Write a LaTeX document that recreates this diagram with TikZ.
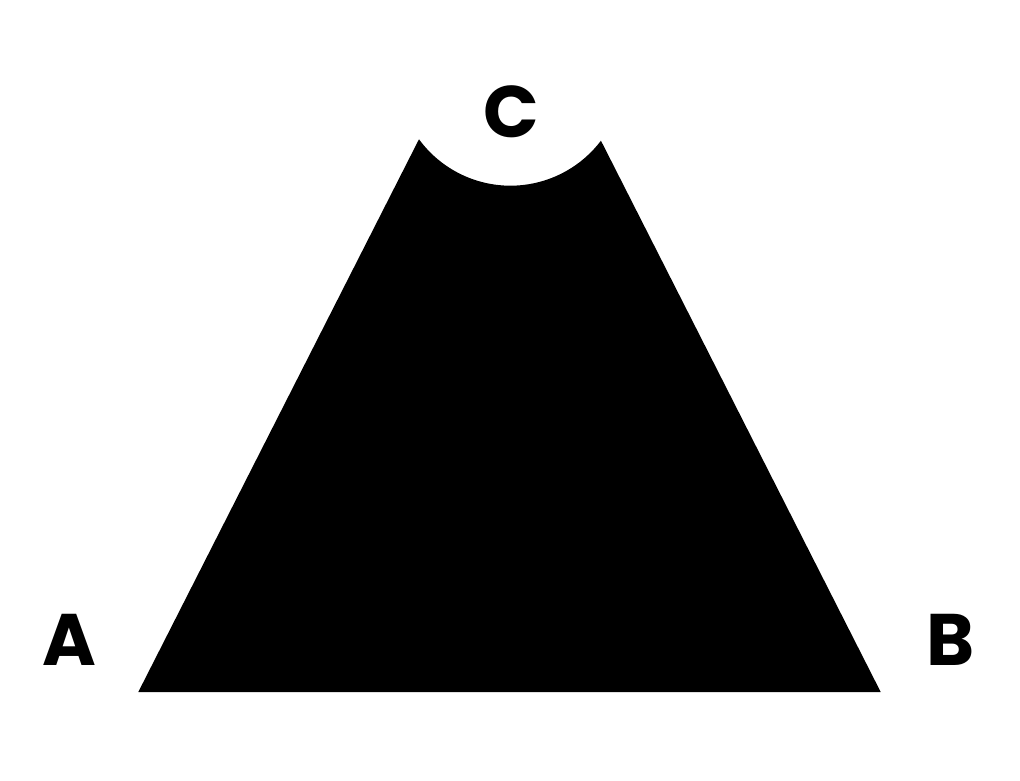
\documentclass[tikz,border=0pt]{standalone}
\usepackage{fontspec}
\setmainfont{Poppins}
\usetikzlibrary{calc}
\begin{document}
\begin{tikzpicture}[x=1pt,y=1pt,
  vlabel/.style={inner sep=0pt,font=\fontsize{73}{73}\selectfont\bfseries}]
\useasboundingbox (0,0) rectangle (1020,780);
\coordinate (O) at (510.5,707.7);
\coordinate (A) at (138.3,88);
\coordinate (B) at (880.7,88);
\fill[black] (A) -- ($(O)+(216.2:113.4pt)$) arc[start angle=216.2,end angle=322.9,radius=113.4pt] -- (B) -- cycle;
\node[vlabel] (la) at (69,140.5) {A};
\node[vlabel] (lb) at (951,140.5) {B};
\node[vlabel] (lc) at (511,668) {C};
\end{tikzpicture}
\end{document}
